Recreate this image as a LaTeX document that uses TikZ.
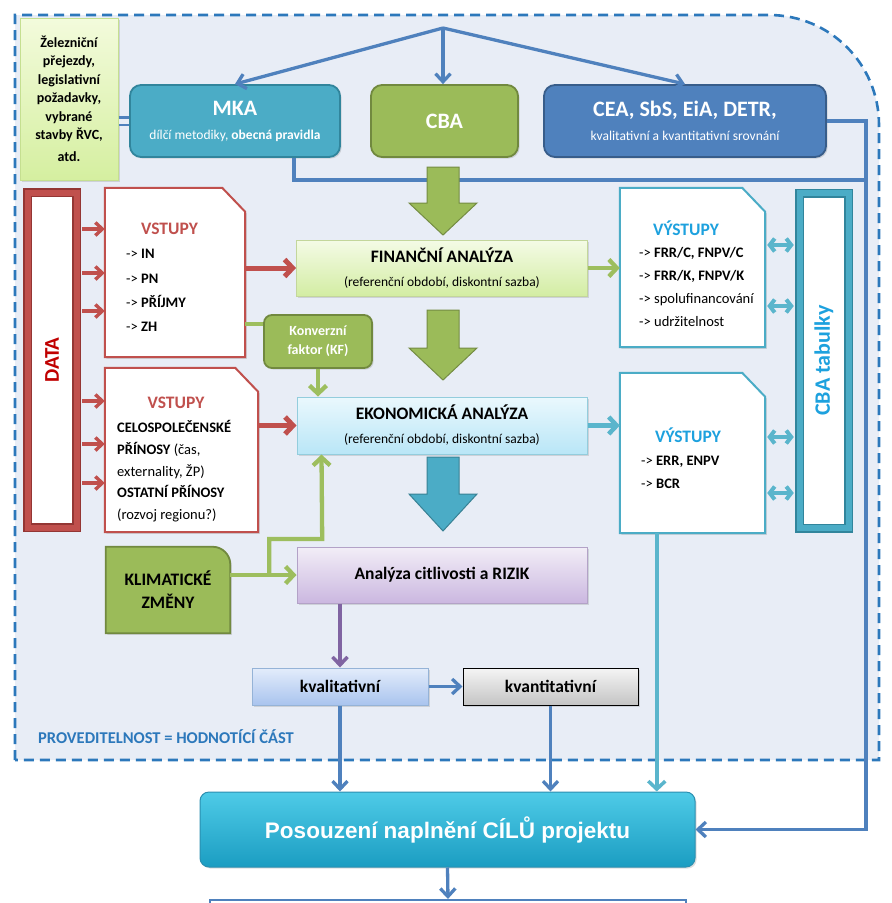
\documentclass[tikz,border=0pt]{standalone}
\usepackage{fontspec}
\usepackage{graphicx}
\setmainfont{Carlito}
\newfontfamily\goalfont{Liberation Sans}
\usetikzlibrary{calc,arrows.meta,shadows}
\definecolor{regfill}{HTML}{E8EDF6}
\definecolor{regline}{HTML}{2C78BB}
\definecolor{arrblue}{HTML}{4F81BD}
\definecolor{mkateal}{HTML}{4BACC6}
\definecolor{tealdark}{HTML}{31859C}
\definecolor{cbagreen}{HTML}{9BBB59}
\definecolor{cbadark}{HTML}{71893F}
\definecolor{ceablue}{HTML}{4F81BD}
\definecolor{ceadark}{HTML}{385D8A}
\definecolor{datared}{HTML}{C0504D}
\definecolor{reddark}{HTML}{943634}
\definecolor{datatext}{HTML}{C00000}
\definecolor{outblue}{HTML}{1DA1DE}
\definecolor{lilac}{HTML}{8064A2}
\definecolor{grarrow}{HTML}{9DBE5E}
\definecolor{tealarrow}{HTML}{5AB5CC}
\definecolor{zeltop}{HTML}{F3FBDC}
\definecolor{zelbot}{HTML}{D5EFA0}
\definecolor{zeledge}{HTML}{C5DF90}
\definecolor{fatop}{HTML}{F4FBE6}
\definecolor{fabot}{HTML}{D3EDA3}
\definecolor{faedge}{HTML}{C3D69B}
\definecolor{eatop}{HTML}{EAF8FD}
\definecolor{eabot}{HTML}{B9E6F7}
\definecolor{eaedge}{HTML}{93CDDD}
\definecolor{actop}{HTML}{F2EEF7}
\definecolor{acbot}{HTML}{CBB7E0}
\definecolor{acedge}{HTML}{B3A2C7}
\definecolor{kvaltop}{HTML}{E3ECFB}
\definecolor{kvalbot}{HTML}{A9C4EE}
\definecolor{kvaledge}{HTML}{95B3D7}
\definecolor{kvanttop}{HTML}{F5F5F5}
\definecolor{kvantbot}{HTML}{C4C4C4}
\definecolor{postop}{HTML}{4ECBE7}
\definecolor{posbot}{HTML}{1B9DC2}
\definecolor{posedge}{HTML}{2B8FB0}
\tikzset{
  shad/.style={drop shadow={shadow xshift=1.6pt, shadow yshift=-1.6pt, opacity=.25}},
  region/.style={draw=regline, fill=regfill, line width=2.6pt, dash pattern=on 10pt off 6pt},
  lift/.style={execute at begin node={\rule{0pt}{#1}}},
  zelbox/.style={draw=zeledge, line width=1pt, top color=zeltop, bottom color=zelbot, minimum width=98pt, minimum height=162pt, align=center, inner sep=0pt, font=\fontsize{14}{18.5}\selectfont\bfseries, shad},
  topbox/.style={rounded corners=11pt, line width=1.8pt, text=white, align=center, inner sep=0pt, minimum height=72pt, font=\fontsize{13.5}{24}\selectfont, shad},
  anbox/.style={line width=1pt, minimum width=290pt, minimum height=56pt, align=center, inner sep=0pt, font=\fontsize{13.5}{24}\selectfont, shad},
  smallbox/.style={line width=1pt, minimum width=176pt, minimum height=37pt, inner sep=0pt, font=\fontsize{17.5}{20}\selectfont\bfseries, shad},
  frame/.style={double distance=6pt, line width=1.5pt, fill=white, minimum width=49pt, minimum height=335pt, inner sep=0pt, shad},
  docbox/.style={inner sep=0pt},
  docline/.style={fill=white, line width=2pt, shad},
  dochead/.style={inner sep=0pt, text height=11pt, text depth=0pt, font=\fontsize{17.5}{20}\selectfont\bfseries},
  doclist/.style={anchor=west, inner sep=0pt, text height=9.4pt, text depth=0pt, font=\fontsize{14.5}{17}\selectfont},
  blarr/.style={draw=arrblue, line width=3.3pt, arrows={-Straight Barb[length=8pt,width=15pt]}},
  bline/.style={draw=arrblue, line width=3.3pt},
  dblline/.style={draw=arrblue, line width=2.8pt, double=regfill, double distance=5pt},
  redarr/.style={draw=datared, line width=5pt, arrows={-Straight Barb[length=8pt,width=17pt]}},
  redsmall/.style={draw=datared, line width=3.4pt, arrows={-Straight Barb[length=7pt,width=13pt]}},
  grline/.style={draw=grarrow, line width=4.3pt},
  grarr/.style={grline, arrows={-Straight Barb[length=8pt,width=17pt]}},
  tealarr/.style={draw=tealarrow, line width=4.5pt, arrows={-Straight Barb[length=8pt,width=17pt]}},
  dblarr/.style={draw=tealarrow, line width=4pt, arrows={Straight Barb[length=5pt,width=13pt]-Straight Barb[length=5pt,width=13pt]}},
  violarr/.style={draw=lilac, line width=3.5pt, arrows={-Straight Barb[length=8pt,width=15pt]}}
}
\begin{document}
\begin{tikzpicture}[x=1pt,y=-1pt]
\useasboundingbox (0,0) rectangle (892,903);
% hodnotici cast
\draw[region] (15,760) -- (15,15) -- (769,15) .. controls (830,15) and (879,64) .. (879,125) -- (879,760) -- cycle;
\node[anchor=west, inner sep=0pt, text=regline, font=\fontsize{16.5}{18}\selectfont\bfseries] (prov) at (38,737) {PROVEDITELNOST = HODNOTÍCÍ ČÁST};

% horni rada
\node[zelbox] (zel) at (69,99) {Železniční\\přejezdy,\\legislativní\\požadavky,\\vybrané\\stavby ŘVC,\\[3.5pt]atd.};
\node[topbox, lift=28pt, fill=mkateal, draw=tealdark, minimum width=210pt] (mka) at (235,121) {{\fontsize{22}{24}\selectfont\bfseries MKA}\\dílčí metodiky, \textbf{obecná pravidla}};
\node[topbox, fill=cbagreen, draw=cbadark, minimum width=147pt, font=\fontsize{22}{24}\selectfont\bfseries] (cba) at (444.5,121) {CBA};
\node[topbox, lift=26pt, fill=ceablue, draw=ceadark, minimum width=282pt] (cea) at (685,121) {{\fontsize{22}{24}\selectfont\bfseries CEA, SbS, EiA, DETR,}\\kvalitativní a kvantitativní srovnání};
\coordinate (hub) at (443,28);
\draw[blarr] (hub) -- (mka.north);
\draw[blarr] (hub) -- (hub |- cba.north);
\draw[blarr] (hub) -- (cea.north);
\draw[dblline] (zel.east |- mka.west) -- (mka.west);
\draw[bline] ($(mka.south)+(59,0)$) |- (866,180) coordinate (rail);

% blokove sipky
\foreach \yt/\yh/\yb/\c in {167/203/235/cbagreen, 310/348/380/cbagreen, 457/494/531/mkateal}
  \filldraw[fill=\c, draw=\c!75!black, line width=1pt] (427,\yt) -- (459,\yt) -- (459,\yh) -- (477,\yh) -- (443,\yb) -- (409,\yh) -- (427,\yh) -- cycle;

% data, vstupy, vystupy
\node[frame, draw=reddark, double=datared, text=datatext, font=\fontsize{21}{21}\selectfont\bfseries] (data) at (52,360) {\rotatebox{90}{DATA}};
\node[frame, draw=tealdark, double=mkateal, text=outblue, font=\fontsize{22}{22}\selectfont\bfseries] (tab) at (824,360.5) {\rotatebox{90}{CBA tabulky}};
\node[docbox, minimum width=140pt, minimum height=169pt] (vst1) at (175,272.5) {};
\node[docbox, minimum width=153pt, minimum height=164pt] (vst2) at (181.5,450) {};
\node[docbox, minimum width=145pt, minimum height=159pt] (vy1) at (692.5,267.5) {};
\node[docbox, minimum width=145pt, minimum height=160pt] (vy2) at (692.5,453) {};
\foreach \b/\c in {vst1/datared, vst2/datared, vy1/mkateal, vy2/mkateal}
  \filldraw[docline, draw=\c] (\b.north west) -- ($(\b.north east)+(-23,0)$) -- ($(\b.north east)+(0,24)$) -- (\b.south east) -- (\b.south west) -- cycle;
\node[dochead, text=datared] (vst1h) at (169.5,229) {VSTUPY};
\node[dochead, text=datared] (vst2h) at (176,403) {VSTUPY};
\node[dochead, text=outblue] (vy1h) at (686,230) {VÝSTUPY};
\node[dochead, text=outblue] (vy2h) at (688,437) {VÝSTUPY};
\foreach \t [count=\k] in {IN,PN,PŘÍJMY,ZH}
  \node[doclist] (vst1r\k) at (126,{229.7+24.3*\k}) {-> \textbf{\t}};
\foreach \t [count=\k] in {\textbf{CELOSPOLEČENSKÉ}, {\textbf{PŘÍNOSY} (čas,}, {externality, ŽP)}, \textbf{OSTATNÍ PŘÍNOSY}, (rozvoj regionu?)}
  \node[doclist] (vst2r\k) at (117,{406.3+21.7*\k}) {\t};
\foreach \t [count=\k] in {\textbf{FRR/C, FNPV/C}, \textbf{FRR/K, FNPV/K}, spolufinancování, udržitelnost}
  \node[doclist] (vy1r\k) at (639,{230+23*\k}) {-> \t};
\foreach \t [count=\k] in {\textbf{ERR, ENPV}, \textbf{BCR}}
  \node[doclist] (vy2r\k) at (641,{438+23*\k}) {-> \t};
\foreach \dy/\b in {-131/vst1, -87/vst1, -49/vst1, 41/vst2, 84/vst2, 123/vst2}
  \draw[redsmall] ($(data.east)+(4.5,\dy)$) coordinate (s) -- (s -| \b.west);
\foreach \b/\dy in {vy1/-22.5, vy1/38.5, vy2/-16, vy2/40}
  \draw[dblarr] ($(\b.east)+(2,\dy)$) coordinate (s) -- ($(s -| tab.west)+(-5,0)$);

% analyzy
\node[anbox, lift=24.5pt, draw=faedge, top color=fatop, bottom color=fabot, minimum width=291pt] (fa) at (442,268) {{\fontsize{17.5}{20}\selectfont\bfseries FINANČNÍ ANALÝZA}\\(referenční období, diskontní sazba)};
\node[anbox, lift=24pt, draw=eaedge, top color=eatop, bottom color=eabot, minimum height=57pt] (ea) at (442,425.5) {{\fontsize{17.5}{20}\selectfont\bfseries EKONOMICKÁ ANALÝZA}\\(referenční období, diskontní sazba)};
\node[anbox, draw=acedge, top color=actop, bottom color=acbot, font=\fontsize{17.5}{20}\selectfont\bfseries] (ac) at (442,575) {Analýza citlivosti a RIZIK};
\node[rounded corners=8pt, line width=1.8pt, fill=cbagreen, draw=cbadark, text=white, minimum width=108pt, minimum height=53pt, inner sep=0pt, align=center, font=\fontsize{14}{19}\selectfont\bfseries, shad] (kf) at (318,341.5) {Konverzní\\faktor (KF)};
\node[docbox, minimum width=124pt, minimum height=86pt] (klima) at (168,590) {};
\filldraw[fill=cbagreen, draw=cbadark, line width=1.8pt, shad] (klima.south west) -- (klima.north west) -- ($(klima.north east)+(-17,0)$) .. controls ($(klima.north east)+(-8,0)$) and ($(klima.north east)+(0,8)$) .. ($(klima.north east)+(0,17)$) -- (klima.south east) -- cycle;
\node[align=center, inner sep=0pt, font=\fontsize{17.5}{23}\selectfont\bfseries] (klimat) at (klima) {KLIMATICKÉ\\ZMĚNY};

\draw[redarr] (vst1.east |- fa.west) -- (fa.west);
\draw[redarr] (vst2.east |- ea.west) -- (ea.west);
\draw[grline] ($(kf.west)+(0,-17.5)$) coordinate (s) -- (s -| vst1.east);
\draw[grarr] (kf.south) -- (kf.south |- ea.north);
\draw[grarr] (fa.east) -- (fa.east -| vy1.west);
\draw[tealarr] (ea.east) -- (ea.east -| vy2.west);
\draw[grarr] (klima.east |- ac.west) -- (ac.west);
\draw[grarr] ($(klima.east |- ac.west)+(39,0)$) |- ++(53,-36) -- ($(ea.south west)+(25,0)$);

% hodnoceni
\node[smallbox, draw=kvaledge, top color=kvaltop, bottom color=kvalbot] (kval) at (340,686.5) {kvalitativní};
\node[smallbox, draw=black, top color=kvanttop, bottom color=kvantbot, minimum width=175pt] (kvant) at (550.5,686.5) {kvantitativní};
\draw[violarr] (ac.south -| kval.north) -- (kval.north);
\draw[blarr] (kval.east) -- (kvant.west);

% cile projektu
\node[rounded corners=9pt, line width=1pt, draw=posedge, top color=postop, bottom color=posbot, minimum width=495pt, minimum height=75pt, text=white, font=\goalfont\bfseries\fontsize{22.5}{24}\selectfont, shad] (pos) at (447.5,829.5) {Posouzení naplnění CÍLŮ projektu};
\begin{scope}
  \clip (0,0) rectangle (892,903);
  \node[draw=arrblue, line width=2.2pt, fill=white, minimum width=476pt, minimum height=60pt] (next) at (448,930) {};
\end{scope}
\draw[blarr] (kval.south) -- (kval.south |- pos.north);
\draw[blarr] (kvant.south) -- (kvant.south |- pos.north);
\draw[tealarr, line width=3.5pt] ($(vy2.south west)+(37,0)$) coordinate (s) -- (s |- pos.north);
\draw[blarr] (cea.east) -| (rail) |- (pos.east);
\draw[blarr] (pos.south) -- (next.north);
\end{tikzpicture}
\end{document}
